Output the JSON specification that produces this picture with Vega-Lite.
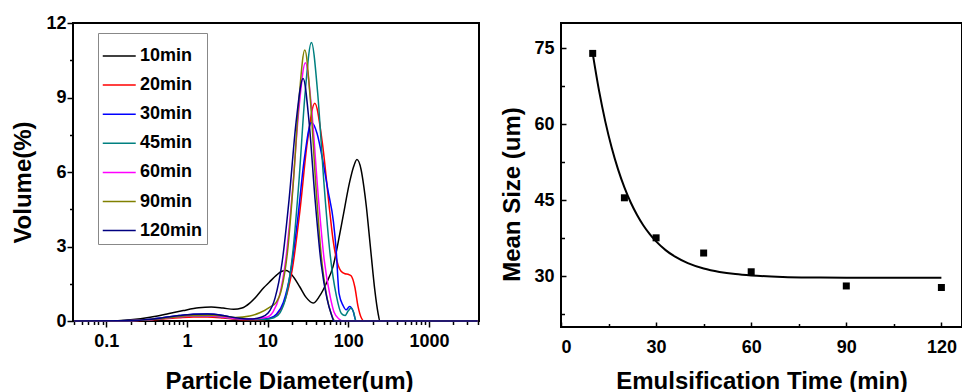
{
  "$schema": "https://vega.github.io/schema/vega-lite/v6.json",
  "background": "white",
  "padding": {"left": 10, "top": 13, "right": 0, "bottom": 0},
  "spacing": 82,
  "bounds": "flush",
  "config": {
    "view": {"stroke": "black", "strokeWidth": 2},
    "axis": {"labelFont": "Liberation Sans", "labelFontWeight": "bold", "labelFontSize": 18, "labelColor": "black", "titleFont": "Liberation Sans", "titleFontWeight": "bold", "titleFontSize": 24, "titleColor": "black", "ticks": true, "tickColor": "black", "tickWidth": 1.5, "grid": false, "domain": false}
  },
  "datasets": {
    "psd": [
      {"series":"10min","d":0.04,"v":0},{"series":"10min","d":0.1,"v":0},{"series":"10min","d":0.2,"v":0.05},{"series":"10min","d":0.35,"v":0.15},{"series":"10min","d":0.6,"v":0.3},{"series":"10min","d":0.9,"v":0.42},{"series":"10min","d":1.4,"v":0.53},{"series":"10min","d":2.0,"v":0.56},{"series":"10min","d":2.8,"v":0.52},{"series":"10min","d":3.8,"v":0.47},{"series":"10min","d":4.8,"v":0.52},{"series":"10min","d":6,"v":0.72},{"series":"10min","d":7.3,"v":1.0},{"series":"10min","d":9,"v":1.35},{"series":"10min","d":10.4,"v":1.55},{"series":"10min","d":12.9,"v":1.85},{"series":"10min","d":15,"v":2.0},{"series":"10min","d":17.1,"v":2.03},{"series":"10min","d":20,"v":1.85},{"series":"10min","d":25,"v":1.38},{"series":"10min","d":30,"v":0.95},{"series":"10min","d":36.6,"v":0.72},{"series":"10min","d":44,"v":1.0},{"series":"10min","d":53.5,"v":1.52},{"series":"10min","d":64.8,"v":2.2},{"series":"10min","d":78.3,"v":3.5},{"series":"10min","d":86,"v":4.2},{"series":"10min","d":104,"v":5.6},{"series":"10min","d":116,"v":6.2},{"series":"10min","d":128,"v":6.5},{"series":"10min","d":144,"v":6.1},{"series":"10min","d":156,"v":5.4},{"series":"10min","d":167.5,"v":4.6},{"series":"10min","d":180,"v":3.6},{"series":"10min","d":193,"v":2.6},{"series":"10min","d":213,"v":1.25},{"series":"10min","d":234,"v":0.31},{"series":"10min","d":246,"v":0},{"series":"10min","d":4000,"v":0},
      {"series":"20min","d":0.04,"v":0},{"series":"20min","d":0.15,"v":0.01},{"series":"20min","d":0.3,"v":0.03},{"series":"20min","d":0.5,"v":0.08},{"series":"20min","d":0.8,"v":0.13},{"series":"20min","d":1.2,"v":0.16},{"series":"20min","d":1.8,"v":0.16},{"series":"20min","d":2.8,"v":0.12},{"series":"20min","d":4,"v":0.07},{"series":"20min","d":6,"v":0.05},{"series":"20min","d":8,"v":0.05},{"series":"20min","d":10.64,"v":0.1},{"series":"20min","d":13.18,"v":0.27},{"series":"20min","d":16.33,"v":0.81},{"series":"20min","d":20.23,"v":2.09},{"series":"20min","d":25.05,"v":4.39},{"series":"20min","d":31.03,"v":7.19},{"series":"20min","d":38.4,"v":8.77},{"series":"20min","d":47.6,"v":7.19},{"series":"20min","d":59,"v":4.39},{"series":"20min","d":64.8,"v":3.26},{"series":"20min","d":72.6,"v":2.4},{"series":"20min","d":81.4,"v":2.0},{"series":"20min","d":91.2,"v":1.9},{"series":"20min","d":99.4,"v":1.88},{"series":"20min","d":108.3,"v":1.82},{"series":"20min","d":120.3,"v":1.38},{"series":"20min","d":132.2,"v":0.58},{"series":"20min","d":145.3,"v":0.12},{"series":"20min","d":156.9,"v":0},{"series":"20min","d":4000,"v":0},
      {"series":"30min","d":0.04,"v":0},{"series":"30min","d":0.15,"v":0.01},{"series":"30min","d":0.3,"v":0.05},{"series":"30min","d":0.5,"v":0.13},{"series":"30min","d":0.8,"v":0.22},{"series":"30min","d":1.2,"v":0.27},{"series":"30min","d":1.8,"v":0.28},{"series":"30min","d":2.8,"v":0.22},{"series":"30min","d":4,"v":0.12},{"series":"30min","d":6,"v":0.07},{"series":"30min","d":8,"v":0.07},{"series":"30min","d":10.52,"v":0.11},{"series":"30min","d":12.85,"v":0.27},{"series":"30min","d":15.69,"v":0.76},{"series":"30min","d":19.16,"v":1.93},{"series":"30min","d":23.39,"v":4.0},{"series":"30min","d":28.56,"v":6.55},{"series":"30min","d":34.9,"v":7.99},{"series":"30min","d":41.1,"v":7.54},{"series":"30min","d":47.7,"v":6.55},{"series":"30min","d":55.9,"v":5.27},{"series":"30min","d":65.4,"v":4.0},{"series":"30min","d":70.6,"v":2.9},{"series":"30min","d":76.9,"v":1.1},{"series":"30min","d":86.2,"v":0.62},{"series":"30min","d":93.9,"v":0.45},{"series":"30min","d":103.8,"v":0.58},{"series":"30min","d":114.7,"v":0.4},{"series":"30min","d":124.9,"v":0},{"series":"30min","d":4000,"v":0},
      {"series":"45min","d":0.04,"v":0},{"series":"45min","d":0.15,"v":0.01},{"series":"45min","d":0.3,"v":0.04},{"series":"45min","d":0.5,"v":0.1},{"series":"45min","d":0.8,"v":0.17},{"series":"45min","d":1.2,"v":0.2},{"series":"45min","d":1.8,"v":0.2},{"series":"45min","d":2.8,"v":0.15},{"series":"45min","d":4,"v":0.09},{"series":"45min","d":6,"v":0.06},{"series":"45min","d":9,"v":0.06},{"series":"45min","d":11.97,"v":0.13},{"series":"45min","d":14.3,"v":0.34},{"series":"45min","d":17.09,"v":1.04},{"series":"45min","d":20.42,"v":2.69},{"series":"45min","d":24.42,"v":5.6},{"series":"45min","d":29.18,"v":9.19},{"series":"45min","d":34.9,"v":11.21},{"series":"45min","d":41.7,"v":9.19},{"series":"45min","d":49.8,"v":5.6},{"series":"45min","d":59.6,"v":2.67},{"series":"45min","d":71.2,"v":1.01},{"series":"45min","d":82.1,"v":0.3},{"series":"45min","d":91.2,"v":0.22},{"series":"45min","d":99.4,"v":0.4},{"series":"45min","d":108.3,"v":0.52},{"series":"45min","d":116.3,"v":0.35},{"series":"45min","d":125,"v":0},{"series":"45min","d":4000,"v":0},
      {"series":"60min","d":0.04,"v":0},{"series":"60min","d":0.15,"v":0.01},{"series":"60min","d":0.3,"v":0.04},{"series":"60min","d":0.5,"v":0.1},{"series":"60min","d":0.8,"v":0.17},{"series":"60min","d":1.2,"v":0.21},{"series":"60min","d":1.8,"v":0.21},{"series":"60min","d":2.8,"v":0.16},{"series":"60min","d":4,"v":0.1},{"series":"60min","d":6,"v":0.08},{"series":"60min","d":9.66,"v":0.15},{"series":"60min","d":11.63,"v":0.36},{"series":"60min","d":14.0,"v":1.0},{"series":"60min","d":16.85,"v":2.52},{"series":"60min","d":20.28,"v":5.2},{"series":"60min","d":24.41,"v":8.53},{"series":"60min","d":29.4,"v":10.4},{"series":"60min","d":35.1,"v":8.53},{"series":"60min","d":42.0,"v":5.2},{"series":"60min","d":50.2,"v":2.48},{"series":"60min","d":60,"v":0.94},{"series":"60min","d":66.7,"v":0.35},{"series":"60min","d":76.9,"v":0.08},{"series":"60min","d":83.8,"v":0},{"series":"60min","d":4000,"v":0},
      {"series":"90min","d":0.04,"v":0},{"series":"90min","d":0.15,"v":0.01},{"series":"90min","d":0.3,"v":0.04},{"series":"90min","d":0.5,"v":0.1},{"series":"90min","d":0.8,"v":0.18},{"series":"90min","d":1.2,"v":0.22},{"series":"90min","d":1.8,"v":0.23},{"series":"90min","d":2.8,"v":0.2},{"series":"90min","d":4,"v":0.14},{"series":"90min","d":6,"v":0.2},{"series":"90min","d":8,"v":0.33},{"series":"90min","d":10.8,"v":0.57},{"series":"90min","d":12.72,"v":0.74},{"series":"90min","d":14.99,"v":1.33},{"series":"90min","d":17.66,"v":2.8},{"series":"90min","d":20.81,"v":5.55},{"series":"90min","d":24.52,"v":8.95},{"series":"90min","d":28.9,"v":10.91},{"series":"90min","d":33.8,"v":8.95},{"series":"90min","d":39.6,"v":5.46},{"series":"90min","d":46.3,"v":2.6},{"series":"90min","d":54.2,"v":0.98},{"series":"90min","d":61.2,"v":0.3},{"series":"90min","d":68.6,"v":0},{"series":"90min","d":4000,"v":0},
      {"series":"120min","d":0.04,"v":0},{"series":"120min","d":0.15,"v":0.01},{"series":"120min","d":0.3,"v":0.05},{"series":"120min","d":0.5,"v":0.13},{"series":"120min","d":0.8,"v":0.22},{"series":"120min","d":1.2,"v":0.27},{"series":"120min","d":1.8,"v":0.28},{"series":"120min","d":2.8,"v":0.22},{"series":"120min","d":4,"v":0.13},{"series":"120min","d":6,"v":0.08},{"series":"120min","d":8.3,"v":0.15},{"series":"120min","d":10.14,"v":0.32},{"series":"120min","d":12.38,"v":0.93},{"series":"120min","d":15.12,"v":2.36},{"series":"120min","d":18.46,"v":4.9},{"series":"120min","d":22.54,"v":8.01},{"series":"120min","d":27.53,"v":9.77},{"series":"120min","d":32.67,"v":8.01},{"series":"120min","d":38.77,"v":4.89},{"series":"120min","d":46.0,"v":2.33},{"series":"120min","d":54.6,"v":0.88},{"series":"120min","d":61.2,"v":0.3},{"series":"120min","d":66.7,"v":0},{"series":"120min","d":4000,"v":0}
    ],
    "mean": [
      {"t":10,"size":74.0},{"t":20,"size":45.5},{"t":30,"size":37.6},{"t":45,"size":34.6},{"t":60,"size":30.9},{"t":90,"size":28.1},{"t":120,"size":27.8}
    ],
    "fit": [
      {"t":10,"size":74.0},{"t":12,"size":66.64},{"t":14,"size":60.49},{"t":16,"size":55.38},{"t":18,"size":51.11},{"t":20,"size":47.55},{"t":22,"size":44.58},{"t":24,"size":42.11},{"t":26,"size":40.04},{"t":28,"size":38.33},{"t":30,"size":36.89},{"t":33,"size":35.17},{"t":36,"size":33.87},{"t":40,"size":32.6},{"t":45,"size":31.54},{"t":50,"size":30.87},{"t":55,"size":30.44},{"t":60,"size":30.17},{"t":70,"size":29.89},{"t":80,"size":29.78},{"t":90,"size":29.73},{"t":100,"size":29.71},{"t":120,"size":29.7}
    ]
  },
  "hconcat": [
    {
      "width": 406,
      "height": 298,
      "data": {"name": "psd"},
      "layer": [
        {
          "mark": {"type": "line", "strokeWidth": 1.5, "interpolate": "monotone"},
          "encoding": {
            "x": {"field": "d", "type": "quantitative",
              "scale": {"type": "log", "domain": [0.0387, 4170], "nice": false},
              "axis": {"orient": "bottom", "values": [0.1, 1, 10, 100, 1000], "format": "~g", "tickSize": 6, "labelPadding": 5, "title": "Particle Diameter(um)", "titleX": 216, "titleY": 67, "titleBaseline": "alphabetic", "titleAlign": "center"}},
            "y": {"field": "v", "type": "quantitative",
              "scale": {"domain": [0, 12], "nice": false},
              "axis": {"orient": "left", "values": [0, 3, 6, 9, 12], "tickSize": 6, "labelPadding": 1, "title": "Volume(%)", "titleX": -42.5, "titleY": 159, "titleBaseline": "alphabetic", "titleAlign": "center", "titleAngle": 270}},
            "color": {"field": "series", "type": "nominal",
              "scale": {"domain": ["10min", "20min", "30min", "45min", "60min", "90min", "120min"], "range": ["#000000", "#ff0000", "#0000ff", "#008080", "#ff00ff", "#808000", "#000080"]},
              "legend": {"orient": "none", "legendX": 25, "legendY": 10, "title": " ", "titleFontSize": 8, "titlePadding": 2, "padding": 4, "strokeColor": "#888888", "fillColor": "white", "symbolType": "M-1,0H3", "symbolSize": 272, "symbolStrokeWidth": 1.5, "labelOffset": 20, "labelFont": "Liberation Sans", "labelFontWeight": "bold", "labelFontSize": 18, "labelColor": "black", "rowPadding": 11.1}}
          }
        },
        {
          "mark": {"type": "point", "opacity": 0},
          "encoding": {
            "x": {"field": "d", "type": "quantitative",
              "axis": {"orient": "bottom", "values": [0.04, 0.05, 0.06, 0.07, 0.08, 0.09, 0.2, 0.3, 0.4, 0.5, 0.6, 0.7, 0.8, 0.9, 2, 3, 4, 5, 6, 7, 8, 9, 20, 30, 40, 50, 60, 70, 80, 90, 200, 300, 400, 500, 600, 700, 800, 900, 2000, 3000, 4000], "labels": false, "title": null, "tickSize": 3.5}},
            "y": {"field": "v", "type": "quantitative",
              "axis": {"orient": "left", "values": [1.5, 4.5, 7.5, 10.5], "labels": false, "title": null, "tickSize": 3.5}}
          }
        }
      ],
      "resolve": {"axis": {"x": "independent", "y": "independent"}}
    },
    {
      "width": 401,
      "height": 304,
      "layer": [
        {
          "data": {"name": "fit"},
          "mark": {"type": "line", "color": "black", "strokeWidth": 2, "interpolate": "monotone"},
          "encoding": {
            "x": {"field": "t", "type": "quantitative",
              "scale": {"domain": [0, 126.5], "nice": false},
              "axis": {"orient": "bottom", "values": [0, 30, 60, 90, 120], "tickSize": -5, "labelPadding": 16, "title": "Emulsification Time (min)", "titleY": 61, "titleBaseline": "alphabetic", "titleAlign": "center"}},
            "y": {"field": "size", "type": "quantitative",
              "scale": {"domain": [20, 80], "nice": false},
              "axis": {"orient": "left", "values": [30, 45, 60, 75], "tickSize": -5, "labelPadding": 12, "title": "Mean Size (um)", "titleX": -42, "titleY": 171, "titleBaseline": "alphabetic", "titleAlign": "center", "titleAngle": 270}}
          }
        },
        {
          "data": {"name": "mean"},
          "mark": {"type": "square", "color": "black", "size": 49, "opacity": 1, "filled": true},
          "encoding": {
            "x": {"field": "t", "type": "quantitative",
              "axis": {"orient": "bottom", "values": [15, 45, 75, 105], "labels": false, "title": null, "tickSize": -3.5}},
            "y": {"field": "size", "type": "quantitative",
              "axis": {"orient": "left", "values": [22.5, 37.5, 52.5, 67.5], "labels": false, "title": null, "tickSize": -3.5}}
          }
        }
      ],
      "resolve": {"axis": {"x": "independent", "y": "independent"}}
    }
  ]
}
